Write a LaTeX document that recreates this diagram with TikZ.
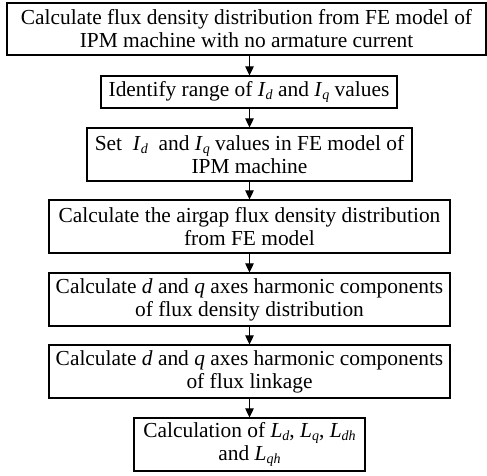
\documentclass[tikz,border=0pt]{standalone}
\usepackage{fontspec}
\setmainfont{Liberation Serif}
\usetikzlibrary{arrows.meta}
\newcommand\isub[2]{\textit{#1}\raisebox{-0.3ex}{\fontsize{14}{14}\selectfont\textit{#2}}}
\begin{document}
\begin{tikzpicture}[x=1pt,y=-1pt,
  stepbox/.style={draw,line width=1.2pt,inner sep=0pt,align=center,
    font=\fontsize{21.4}{23}\selectfont},
  flow/.style={line width=1.1pt,-{Triangle[length=9pt,width=8.5pt]}}]
\useasboundingbox (0,0) rectangle (487,476);
\node[stepbox,minimum width=479,minimum height=52] (b1) at (246.5,29)
  {Calculate flux density distribution from FE model of\\IPM machine with no armature current};
\node[stepbox,minimum width=296,minimum height=32] (b2) at (249,92)
  {Identify range of \isub{I}{d} and \isub{I}{q} values};
\node[stepbox,minimum width=325,minimum height=53] (b3) at (249.5,154.5)
  {Set\ \ \isub{I}{d}\ \ and \isub{I}{q} values in FE model of\\IPM machine};
\node[stepbox,minimum width=401,minimum height=53] (b4) at (249.5,226.5)
  {Calculate the airgap flux density distribution\\from FE model};
\node[stepbox,minimum width=401,minimum height=53] (b5) at (249.5,299.5)
  {Calculate \textit{d} and \textit{q} axes harmonic components\\of flux density distribution};
\node[stepbox,minimum width=401,minimum height=53] (b6) at (249.5,371.5)
  {Calculate \textit{d} and \textit{q} axes harmonic components\\of flux linkage};
\node[stepbox,minimum width=231,minimum height=53] (b7) at (249.5,444.5)
  {Calculation of \isub{L}{d}, \isub{L}{q}, \isub{L}{dh}\\and \isub{L}{qh}};
\draw[flow] (b1.south -| b3.north) -- (b2.north -| b3.north);
\draw[flow] (b2.south -| b3.north) -- (b3.north);
\draw[flow] (b3) -- (b4);
\draw[flow] (b4) -- (b5);
\draw[flow] (b5) -- (b6);
\draw[flow] (b6) -- (b7);
\end{tikzpicture}
\end{document}
